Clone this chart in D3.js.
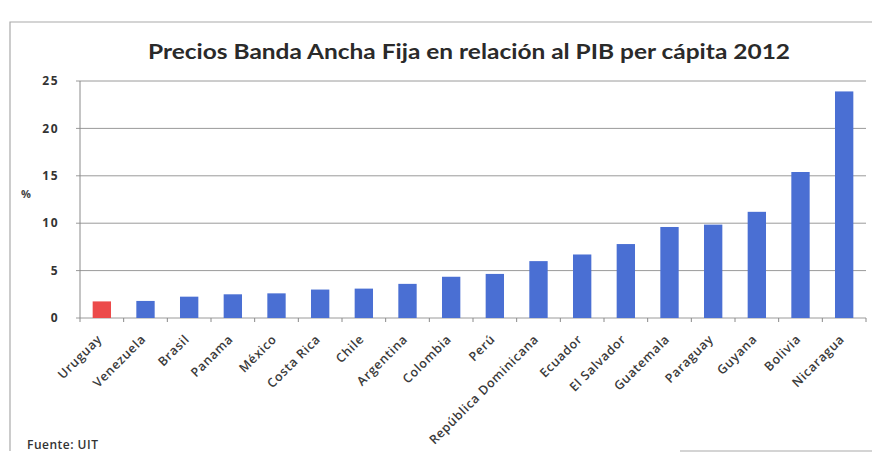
<!DOCTYPE html>
<html>
<head>
<meta charset="utf-8">
<script src="https://cdn.jsdelivr.net/npm/d3@7"></script>
<style>
  html, body { margin: 0; padding: 0; background: #fff; }
  svg { display: block; font-family: "Open Sans", Lato, sans-serif; }
  .grid line { stroke: #9a9a9a; stroke-width: 1; }
  .ylab { font-size: 12px; font-weight: bold; fill: #333; letter-spacing: 1.5px; }
  .xlab { font-size: 12.5px; font-weight: 600; fill: #3a3a3a; letter-spacing: 0.7px; }
</style>
</head>
<body>
<svg id="chart"></svg>
<script>
// Prices of fixed broadband as % of GDP per capita, 2012.
const countries = ['Uruguay', 'Venezuela', 'Brasil', 'Panama', 'México', 'Costa Rica', 'Chile',
  'Argentina', 'Colombia', 'Perú', 'República Dominicana', 'Ecuador', 'El Salvador',
  'Guatemala', 'Paraguay', 'Guyana', 'Bolivia', 'Nicaragua'];
const values = [1.75, 1.8, 2.25, 2.5, 2.6, 3.0, 3.1, 3.6, 4.35, 4.65, 6.0, 6.7, 7.8,
  9.6, 9.85, 11.2, 15.4, 23.9];
const highlight = ['Uruguay'];
const yTicks = [0, 5, 10, 15, 20, 25];

const W = 881, H = 456;
const M = { left: 80, right: 15, top: 81, bottom: 138 }; // plot box 80..866 x 81..318

const svg = d3.select('#chart').attr('width', W).attr('height', H);

// Outer chart frame (scan shows a thin grey border, bottom edge cut off)
svg.append('path')
  .attr('d', `M10,451 L10,22 L872,22`)
  .attr('fill', 'none')
  .attr('stroke', '#aaa')
  .attr('stroke-width', 1.2);
svg.append('line')
  .attr('x1', 680).attr('x2', 872).attr('y1', 451).attr('y2', 451)
  .attr('stroke', '#aaa').attr('stroke-width', 1.2);

// Title
svg.append('text')
  .attr('x', 469).attr('y', 59)
  .attr('text-anchor', 'middle')
  .attr('font-family', 'Lato, sans-serif')
  .attr('font-size', 20)
  .attr('font-weight', 'bold')
  .attr('fill', '#2a2a2a')
  .attr('textLength', 642)
  .attr('lengthAdjust', 'spacingAndGlyphs')
  .text('Precios Banda Ancha Fija en relación al PIB per cápita 2012');

const x = d3.scaleBand()
  .domain(countries)
  .range([M.left, W - M.right])
  .paddingInner(0.58)
  .paddingOuter(0.29);

const y = d3.scaleLinear()
  .domain([0, 25])
  .range([H - M.bottom, M.top]);

// Horizontal gridlines + y labels
const grid = svg.append('g').attr('class', 'grid');
grid.selectAll('line')
  .data(yTicks)
  .join('line')
  .attr('x1', M.left - 4)
  .attr('x2', W - M.right)
  .attr('y1', (d) => y(d))
  .attr('y2', (d) => y(d));

svg.append('g')
  .selectAll('text')
  .data(yTicks)
  .join('text')
  .attr('class', 'ylab')
  .attr('x', 59)
  .attr('y', (d) => y(d))
  .attr('dy', '0.35em')
  .attr('text-anchor', 'end')
  .text((d) => d);

// Vertical axis line
svg.append('line')
  .attr('x1', M.left).attr('x2', M.left)
  .attr('y1', y(25)).attr('y2', y(0))
  .attr('stroke', '#8a8a8a');

// Category tick marks between bars
const step = x.step();
const bounds = d3.range(countries.length + 1).map((i) => M.left + i * step);
svg.append('g')
  .selectAll('line')
  .data(bounds)
  .join('line')
  .attr('x1', (d) => d).attr('x2', (d) => d)
  .attr('y1', y(0)).attr('y2', y(0) + 4)
  .attr('stroke', '#8a8a8a');

// Bars
svg.append('g')
  .selectAll('rect')
  .data(countries)
  .join('rect')
  .attr('x', (d) => x(d))
  .attr('width', x.bandwidth())
  .attr('y', (d, i) => y(values[i]))
  .attr('height', (d, i) => y(0) - y(values[i]))
  .attr('fill', (d) => (highlight.includes(d) ? '#ec4a4a' : '#4a6fd3'));

// Rotated category labels
svg.append('g')
  .selectAll('text')
  .data(countries)
  .join('text')
  .attr('class', 'xlab')
  .attr('text-anchor', 'end')
  .attr('transform', (d) => `translate(${x(d) + x.bandwidth() / 2 + 1},${y(0) + 22}) rotate(-45)`)
  .text((d) => d);

// Axis unit
svg.append('text')
  .attr('x', 21).attr('y', 198)
  .attr('font-size', 11)
  .attr('font-weight', 'bold')
  .attr('fill', '#444')
  .text('%');

// Source note
svg.append('text')
  .attr('x', 27).attr('y', 449)
  .attr('font-size', 12)
  .attr('font-weight', 600)
  .attr('letter-spacing', '0.5px')
  .attr('fill', '#333')
  .text('Fuente: UIT');
</script>
</body>
</html>
